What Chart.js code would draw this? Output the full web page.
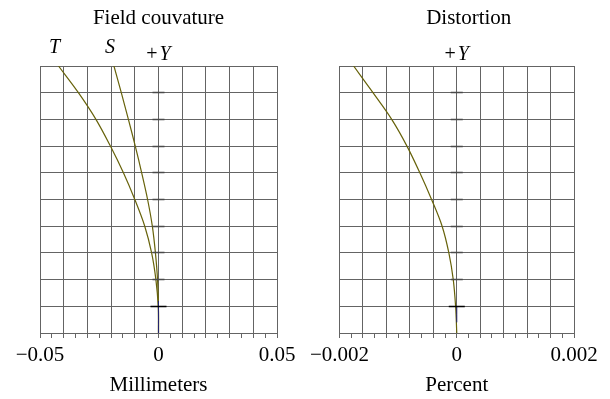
<!DOCTYPE html>
<html><head><meta charset="utf-8">
<script src="https://cdn.jsdelivr.net/npm/chart.js@4.4.0/dist/chart.umd.min.js"></script>
<style>
html,body{margin:0;padding:0;background:#fff;}
#wrap{position:relative;width:610px;height:399px;overflow:hidden;}
.panel{position:absolute;top:0;width:305px;height:399px;}
</style></head><body>
<div id="wrap">
<div class="panel" style="left:0"><canvas id="c1" width="305" height="399"></canvas></div>
<div class="panel" style="left:305px"><canvas id="c2" width="305" height="399"></canvas></div>
</div>
<script>
// ---- data ----
const fieldHeight = [0, 0.1, 0.2, 0.3, 0.4, 0.5, 0.6, 0.7, 0.8, 0.9, 1.0];
const tangential  = [0, -0.0001, -0.0011, -0.0029, -0.0058, -0.0100, -0.0148, -0.0203, -0.0264, -0.0338, -0.0422];
const sagittal    = [0, -0.00003, -0.0004, -0.0013, -0.0026, -0.0046, -0.0071, -0.0098, -0.0127, -0.0157, -0.0188];
const distortion  = [0, -0.00002, -0.00006, -0.000135, -0.00025, -0.00043, -0.00063, -0.00085, -0.00111, -0.00143, -0.00176];
const onAxisField = [0, 0.12];
const onAxisShift = [0, 0];
const distAxisField = [0.04, 0.1];
const distAxisShift = [0, 0];

const fcTickValues = [-0.05, 0, 0.05];
const fcTickLabels = ['\u22120.05', '0', '0.05'];
const dTickValues  = [-0.002, 0, 0.002];
const dTickLabels  = ['\u22120.002', '0', '0.002'];

const titles = ['Field couvature', 'Distortion'];
const xTitles = ['Millimeters', 'Percent'];
const curveLabels = ['T', 'S'];
const axisLabel = ['+', 'Y'];

// ---- helpers ----
const SERIF = "'Liberation Serif', 'Times New Roman', serif";
const GRID = '#646464';
const CURVE = '#67620a';
const BLUE = '#22226e';
const pts = (xs, ys) => xs.map((x, i) => ({x: x, y: ys[i]}));

const textPlugin = {
  id: 'texts',
  afterDatasetsDraw(chart, args, opts) {
    const c = chart.ctx, a = chart.chartArea;
    const xs = chart.scales.x, ys = chart.scales.y;
    c.save();
    // short marks along the +Y axis
    const x0 = xs.getPixelForValue(0);
    ys.ticks.forEach((t, i) => {
      if (i === 0 || i === ys.ticks.length - 1) return;
      const y = Math.round(ys.getPixelForValue(t.value) - 0.5) + 0.5;
      const major = i === 1;
      c.strokeStyle = major ? '#000' : '#4a4a4a';
      c.lineWidth = major ? 1.5 : 1.5;
      const h = major ? 8 : 6;
      c.beginPath(); c.moveTo(x0 - h, y); c.lineTo(x0 + h, y); c.stroke();
    });
    c.fillStyle = '#000';
    c.textBaseline = 'alphabetic';
    // title
    c.font = '21px ' + SERIF;
    c.textAlign = 'center';
    c.fillText(opts.title, (a.left + a.right) / 2 + opts.titleShift, 24);
    // curve labels
    c.font = 'italic 20px ' + SERIF;
    (opts.curveLabels || []).forEach((lab, i) => {
      const d = chart.data.datasets[opts.curveIdx[i]].data;
      const top = d[d.length - 1];
      c.fillText(lab, xs.getPixelForValue(top.x) - 4, a.top - 13);
    });
    // +Y
    c.font = '20px ' + SERIF;
    const w1 = c.measureText(axisLabel[0]).width + 2;
    c.font = 'italic 20px ' + SERIF;
    const w2 = c.measureText(axisLabel[1]).width;
    const sx = x0 - (w1 + w2) / 2;
    c.textAlign = 'left';
    c.font = '20px ' + SERIF;
    c.fillText(axisLabel[0], sx, a.top - 6);
    c.font = 'italic 20px ' + SERIF;
    c.fillText(axisLabel[1], sx + w1, a.top - 6);
    c.restore();
  }
};

function makeChart(id, cfg) {
  return new Chart(document.getElementById(id), {
    type: 'scatter',
    data: { datasets: cfg.datasets },
    plugins: [textPlugin],
    options: {
      responsive: false,
      animation: false,
      devicePixelRatio: 1,
      layout: { padding: { left: cfg.padLeft, right: cfg.padRight, top: 66, bottom: 0 } },
      elements: { point: { radius: 0 }, line: { tension: 0.35, fill: false } },
      plugins: {
        legend: { display: false },
        tooltip: { enabled: false },
        texts: { title: cfg.title, titleShift: cfg.titleShift, curveLabels: cfg.curveLabels, curveIdx: cfg.curveIdx }
      },
      scales: {
        x: {
          type: 'linear', min: cfg.min, max: cfg.max,
          afterFit: (s) => { s.height = 66; },
          border: { display: true, color: GRID },
          grid: {
            color: (ctx) => (ctx.index % 2 === 0 ? GRID : 'rgba(0,0,0,0)'),
            tickColor: GRID, tickLength: 5, drawTicks: true
          },
          ticks: {
            stepSize: cfg.step, autoSkip: false, maxRotation: 0, padding: 5,
            color: '#000', font: { family: SERIF, size: 21 },
            callback: (v) => {
              const k = cfg.tickValues.findIndex(t => Math.abs(t - v) < cfg.step / 100);
              return k >= 0 ? cfg.tickLabels[k] : '';
            }
          },
          title: { display: true, text: cfg.xTitle, color: '#000', font: { family: SERIF, size: 21 }, padding: { top: 0, bottom: 1 } }
        },
        y: {
          type: 'linear', min: 0, max: 1,
          border: { display: true, color: GRID },
          grid: { color: GRID, drawTicks: false },
          ticks: { stepSize: 0.1, display: false }
        }
      }
    }
  });
}

makeChart('c1', {
  padLeft: 40, padRight: 28, min: -0.05, max: 0.05, step: 0.005,
  tickValues: fcTickValues, tickLabels: fcTickLabels, xTitle: xTitles[0],
  title: titles[0], titleShift: 0, curveLabels: curveLabels, curveIdx: [1, 2],
  datasets: [
    { label: 'on-axis', data: pts(onAxisShift, onAxisField), showLine: true, borderColor: BLUE, borderWidth: 1 },
    { label: 'T', data: pts(tangential, fieldHeight), showLine: true, borderColor: CURVE, borderWidth: 1.2 },
    { label: 'S', data: pts(sagittal, fieldHeight), showLine: true, borderColor: CURVE, borderWidth: 1.2 }
  ]
});

makeChart('c2', {
  padLeft: 32, padRight: 36, min: -0.002, max: 0.002, step: 0.0002,
  tickValues: dTickValues, tickLabels: dTickLabels, xTitle: xTitles[1],
  title: titles[1], titleShift: 12, curveLabels: [], curveIdx: [],
  datasets: [
    { label: 'on-axis', data: pts(distAxisShift, distAxisField), showLine: true, borderColor: BLUE, borderWidth: 1 },
    { label: 'Distortion', data: pts(distortion, fieldHeight), showLine: true, borderColor: CURVE, borderWidth: 1.2 }
  ]
});
</script>
</body></html>
